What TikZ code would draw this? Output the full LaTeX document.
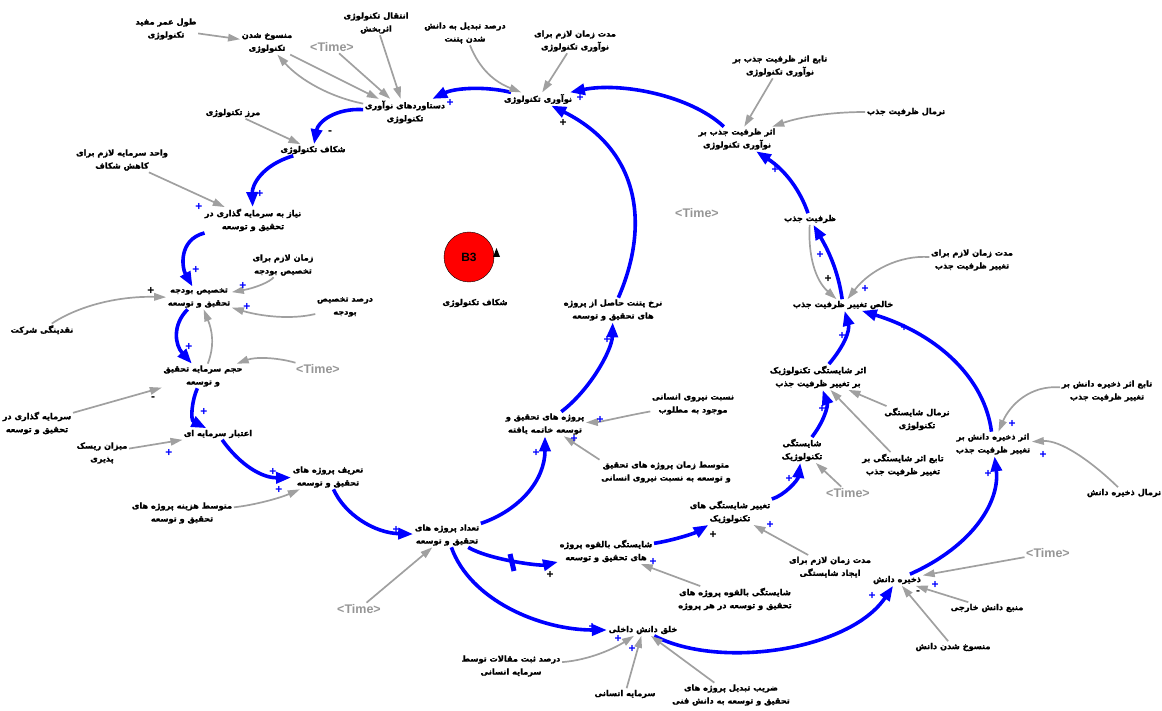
\documentclass[tikz,border=0pt]{standalone}
\usepackage{fontspec}
\usetikzlibrary{arrows.meta}
\setmainfont{Liberation Sans}
\newfontfamily\fa[Script=Arabic,FakeBold=1.6]{DejaVu Sans}
\TeXXeTstate=1
\definecolor{lnk}{RGB}{160,160,160}
\definecolor{tm}{RGB}{150,150,150}
\definecolor{fb}{RGB}{0,0,255}
\tikzset{
  var/.style={font=\fa\bfseries\fontsize{8.2}{13}\selectfont, align=center, inner sep=1.5pt},
  tim/.style={font=\bfseries\fontsize{12.5}{13}\selectfont, text=tm, inner sep=1.5pt},
  blk/.style={draw=fb, line width=3.6pt, -{Triangle[length=15pt,width=11pt]}},
  gln/.style={draw=lnk, line width=1.7pt, -{Triangle[length=12pt,width=7.5pt]}},
  pp/.style={font=\bfseries\fontsize{12}{12}\selectfont, text=fb, inner sep=0pt},
  pn/.style={font=\bfseries\fontsize{12}{12}\selectfont, text=black, inner sep=0pt}
}
\begin{document}
\begin{tikzpicture}[x=1pt,y=-1pt]
\useasboundingbox (0,0) rectangle (1162,711);
% variables
\node[var] (n1) at (166,29) {\beginR طول عمر مفید\endR\\\beginR تکنولوژی\endR};
\node[var] (n2) at (267,43) {\beginR منسوخ شدن\endR\\\beginR تکنولوژی\endR};
\node[tim] (t1) at (332,47) {<Time>};
\node[var] (n4) at (376,23) {\beginR انتقال تکنولوژی\endR\\\beginR اثربخش\endR};
\node[var] (n5) at (465,33) {\beginR درصد تبدیل به دانش\endR\\\beginR شدن پتنت\endR};
\node[var] (n6) at (575,41) {\beginR مدت زمان لازم برای\endR\\\beginR نوآوری تکنولوژی\endR};
\node[var] (n7) at (405,112) {\beginR دستاوردهای نوآوری\endR\\\beginR تکنولوژی\endR};
\node[var] (n8) at (538,99) {\beginR نوآوری تکنولوژی\endR};
\node[var] (n9) at (780,66) {\beginR تابع اثر ظرفیت جذب بر\endR\\\beginR نوآوری تکنولوژی\endR};
\node[var] (n10) at (906,112) {\beginR نرمال ظرفیت جذب\endR};
\node[var] (n11) at (737,139) {\beginR اثر ظرفیت جذب بر\endR\\\beginR نوآوری تکنولوژی\endR};
\node[var] (n12) at (233,113) {\beginR مرز تکنولوژی\endR};
\node[var] (n13) at (313,150) {\beginR شکاف تکنولوژی\endR};
\node[var] (n14) at (122,160) {\beginR واحد سرمایه لازم برای\endR\\\beginR کاهش شکاف\endR};
\node[var] (n15) at (253,220) {\beginR نیاز به سرمایه گذاری در\endR\\\beginR تحقیق و توسعه\endR};
\node[tim] (t2) at (697,213) {<Time>};
\node[var] (n17) at (810,219) {\beginR ظرفیت جذب\endR};
\node[var] (n19) at (972,260) {\beginR مدت زمان لازم برای\endR\\\beginR تغییر ظرفیت جذب\endR};
\node[var] (n20) at (283,265) {\beginR زمان لازم برای\endR\\\beginR تخصیص بودجه\endR};
\node[var] (n21) at (199,298) {\beginR تخصیص بودجه\endR\\\beginR تحقیق و توسعه\endR};
\node[var] (n22) at (345,307) {\beginR درصد تخصیص\endR\\\beginR بودجه\endR};
\node[var] (n23) at (42,330) {\beginR نقدینگی شرکت\endR};
\node[var] (n24) at (843,305) {\beginR خالص تغییر ظرفیت جذب\endR};
\node[var] (n25) at (613,310) {\beginR نرخ پتنت حاصل از پروژه\endR\\\beginR های تحقیق و توسعه\endR};
\node[var] (n26) at (203,376) {\beginR حجم سرمایه تحقیق\endR\\\beginR و توسعه\endR};
\node[tim] (t3) at (318,369) {<Time>};
\node[var] (n28) at (818,377) {\beginR اثر شایستگی تکنولوژیک\endR\\\beginR بر تغییر ظرفیت جذب\endR};
\node[var] (n29) at (1107,391) {\beginR تابع اثر ذخیره دانش بر\endR\\\beginR تغییر ظرفیت جذب\endR};
\node[var] (n30) at (37,423) {\beginR سرمایه گذاری در\endR\\\beginR تحقیق و توسعه\endR};
\node[var] (n31) at (693,404) {\beginR نسبت نیروی انسانی\endR\\\beginR موجود به مطلوب\endR};
\node[var] (n32) at (545,424) {\beginR پروژه های تحقیق و\endR\\\beginR توسعه خاتمه یافته\endR};
\node[var] (n33) at (917,419) {\beginR نرمال شایستگی\endR\\\beginR تکنولوژی\endR};
\node[var] (n34) at (218,434) {\beginR اعتبار سرمایه ای\endR};
\node[var] (n35) at (102,453) {\beginR میزان ریسک\endR\\\beginR پذیری\endR};
\node[var] (n36) at (993,444) {\beginR اثر ذخیره دانش بر\endR\\\beginR تغییر ظرفیت جذب\endR};
\node[var] (n37) at (802,450) {\beginR شایستگی\endR\\\beginR تکنولوژیک\endR};
\node[var] (n38) at (903,465) {\beginR تابع اثر شایستگی بر\endR\\\beginR تغییر ظرفیت جذب\endR};
\node[var] (n39) at (666,472) {\beginR متوسط زمان پروژه های تحقیق\endR\\\beginR و توسعه به نسبت نیروی انسانی\endR};
\node[var] (n40) at (328,477) {\beginR تعریف پروژه های\endR\\\beginR تحقیق و توسعه\endR};
\node[tim] (t4) at (848,493) {<Time>};
\node[var] (n42) at (1124,493) {\beginR نرمال ذخیره دانش\endR};
\node[var] (n43) at (182,513) {\beginR متوسط هزینه پروژه های\endR\\\beginR تحقیق و توسعه\endR};
\node[var] (n44) at (730,512) {\beginR تغییر شایستگی های\endR\\\beginR تکنولوژیک\endR};
\node[var] (n45) at (447,535) {\beginR تعداد پروژه های\endR\\\beginR تحقیق و توسعه\endR};
\node[var] (n46) at (606,551) {\beginR شایستگی بالقوه پروژه\endR\\\beginR های تحقیق و توسعه\endR};
\node[tim] (t5) at (1048,553) {<Time>};
\node[var] (n48) at (830,567) {\beginR مدت زمان لازم برای\endR\\\beginR ایجاد شایستگی\endR};
\node[var] (n49) at (897,580) {\beginR ذخیره دانش\endR};
\node[var] (n50) at (735,599) {\beginR شایستگی بالقوه پروژه های\endR\\\beginR تحقیق و توسعه در هر پروژه\endR};
\node[var] (n51) at (987,608) {\beginR منبع دانش خارجی\endR};
\node[tim] (t6) at (359,609) {<Time>};
\node[var] (n53) at (643,630) {\beginR خلق دانش داخلی\endR};
\node[var] (n54) at (953,647) {\beginR منسوخ شدن دانش\endR};
\node[var] (n55) at (511,666) {\beginR درصد ثبت مقالات توسط\endR\\\beginR سرمایه انسانی\endR};
\node[var] (n56) at (625,694) {\beginR سرمایه انسانی\endR};
\node[var] (n57) at (731,695) {\beginR ضریب تبدیل پروژه های\endR\\\beginR تحقیق و توسعه به دانش فنی\endR};
% loop marker
\node[circle, draw=black, fill=red, minimum size=50pt, inner sep=0pt, font=\bfseries\fontsize{12}{12}\selectfont] (b3) at (469,257) {B3};
\fill[black] (493,257) -- (500,257) -- (496.5,248) -- cycle;
\node[var] (b3l) at (475,303) {\beginR شکاف تکنولوژی\endR};
% main (blue) links
\draw[blk] (n8) .. controls (485,86) and (455,88) .. (n7);
\draw[blk] (n7) .. controls (335,108) and (318,122) .. (n13);
\draw[blk] (n13) .. controls (262,165) and (252,185) .. (n15);
\draw[blk] (n15) .. controls (178,240) and (182,268) .. (n21);
\draw[blk] (n21) .. controls (172,325) and (175,345) .. (n26);
\draw[blk] (n26) .. controls (192,400) and (190,420) .. (n34);
\draw[blk] (n34) .. controls (240,465) and (262,478) .. (n40);
\draw[blk] (n40) .. controls (345,515) and (375,533) .. (n45);
\draw[blk] (n45) .. controls (520,510) and (545,480) .. (n32);
\draw[blk] (n32) .. controls (590,390) and (612,350) .. (n25);
\draw[blk] (n25) .. controls (650,225) and (640,150) .. (n8);
\draw[blk] (n11) .. controls (690,95) and (620,82) .. (n8);
\draw[blk] (n17) .. controls (800,190) and (785,170) .. (n11);
\draw[blk] (n24) .. controls (838,270) and (828,250) .. (n17);
\draw[blk] (n28) .. controls (845,345) and (850,330) .. (n24);
\draw[blk] (n37) .. controls (825,420) and (828,405) .. (n28);
\draw[blk] (n44) .. controls (785,495) and (798,480) .. (n37);
\draw[blk] (n46) .. controls (675,540) and (695,533) .. (n44);
\draw[blk] (n45) .. controls (490,560) and (540,566) .. (n46);
\draw[blk] (n45) .. controls (470,600) and (540,630) .. (n53);
\draw[blk] (n53) .. controls (720,670) and (850,650) .. (n49);
\draw[blk] (n49) .. controls (975,545) and (1000,500) .. (n36);
\draw[blk] (n36) .. controls (985,380) and (940,335) .. (n24);
% delay mark
\draw[fb, line width=5pt] (510,554) -- (514,571);
% auxiliary (grey) links
\draw[gln] (n1) -- (n2);
\draw[gln] (n7) .. controls (330,97) and (300,80) .. (n2);
\draw[gln] (n2) -- (n7);
\draw[gln] (t1) -- (n7);
\draw[gln] (n4) -- (n7);
\draw[gln] (n5) .. controls (480,70) and (495,82) .. (n8);
\draw[gln] (n6) -- (n8);
\draw[gln] (n9) -- (n11);
\draw[gln] (n10) .. controls (830,112) and (800,117) .. (n11);
\draw[gln] (n12) -- (n13);
\draw[gln] (n14) -- (n15);
\draw[gln] (n20) .. controls (270,282) and (255,288) .. (n21);
\draw[gln] (n22) .. controls (290,320) and (260,316) .. (n21);
\draw[gln] (n23) .. controls (80,305) and (120,296) .. (n21);
\draw[gln] (n26) .. controls (215,345) and (212,330) .. (n21);
\draw[gln] (t3) .. controls (275,357) and (255,357) .. (n26);
\draw[gln] (n30) -- (n26);
\draw[gln] (n35) -- (n34);
\draw[gln] (n43) .. controls (255,505) and (280,498) .. (n40);
\draw[gln] (t6) -- (n45);
\draw[gln] (n31) .. controls (630,415) and (600,422) .. (n32);
\draw[gln] (n39.north west) -- (n32);
\draw[gln] (n17) .. controls (808,255) and (815,280) .. (n24);
\draw[gln] (n19) .. controls (900,255) and (870,270) .. (n24);
\draw[gln] (n33) -- (n28);
\draw[gln] (n38) -- (n28);
\draw[gln] (n29) .. controls (1030,385) and (1010,405) .. (n36);
\draw[gln] (n42) .. controls (1090,460) and (1060,440) .. (n36);
\draw[gln] (t4) -- (n37);
\draw[gln] (n48) -- (n44);
\draw[gln] (n50) -- (n46);
\draw[gln] (t5) -- (n49);
\draw[gln] (n51) -- (n49);
\draw[gln] (n54) -- (n49);
\draw[gln] (n55) .. controls (590,660) and (615,648) .. (n53);
\draw[gln] (n56) -- (n53);
\draw[gln] (n57) -- (n53);
% polarities
\node[pp] (q1) at (450,103) {+};
\node[pn] (q2) at (330,133) {-};
\node[pp] (q3) at (260,194) {+};
\node[pp] (q4) at (199,207) {+};
\node[pp] (q5) at (196,270) {+};
\node[pp] (q6) at (243,286) {+};
\node[pp] (q7) at (247,307) {+};
\node[pn] (q8) at (151,291) {+};
\node[pp] (q9) at (189,347) {+};
\node[pn] (q10) at (153,399) {-};
\node[pp] (q11) at (204,412) {+};
\node[pp] (q12) at (169,453) {+};
\node[pp] (q13) at (273,472) {+};
\node[pp] (q14) at (279,490) {+};
\node[pp] (q15) at (396,530) {+};
\node[pp] (q16) at (536,453) {+};
\node[pp] (q17) at (600,420) {+};
\node[pp] (q18) at (574,439) {+};
\node[pp] (q19) at (607,340) {+};
\node[pn] (q20) at (563,123) {+};
\node[pp] (q21) at (580,98) {+};
\node[pp] (q22) at (775,170) {+};
\node[pp] (q23) at (820,255) {+};
\node[pn] (q24) at (828,279) {+};
\node[pp] (q25) at (865,289) {+};
\node[pp] (q26) at (842,336) {+};
\node[pp] (q27) at (904,328) {+};
\node[pp] (q28) at (822,409) {+};
\node[pp] (q29) at (1012,424) {+};
\node[pp] (q30) at (1043,455) {+};
\node[pp] (q31) at (988,474) {+};
\node[pp] (q32) at (789,479) {+};
\node[pp] (q33) at (770,525) {+};
\node[pn] (q34) at (713,535) {+};
\node[pp] (q35) at (653,562) {+};
\node[pn] (q36) at (550,575) {+};
\node[pp] (q37) at (592,627) {+};
\node[pp] (q38) at (618,639) {+};
\node[pp] (q39) at (632,649) {+};
\node[pp] (q40) at (872,596) {+};
\node[pp] (q41) at (935,585) {+};
\node[pn] (q42) at (918,593) {-};
\end{tikzpicture}
\end{document}
